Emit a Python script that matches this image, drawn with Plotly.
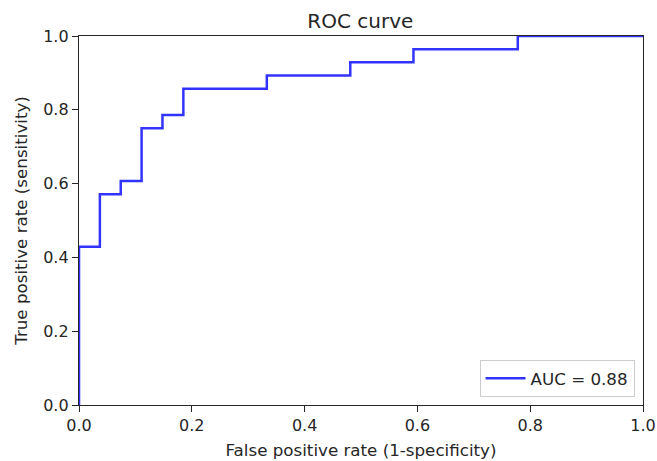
import plotly.graph_objects as go

# ROC curve step points
fpr = [0.0, 0.0, 0.037, 0.037, 0.074, 0.074, 0.111, 0.111, 0.148, 0.148,
       0.185, 0.185, 0.333, 0.333, 0.481, 0.481, 0.593, 0.593, 0.778, 0.778, 1.0]
tpr = [0.0, 0.429, 0.429, 0.571, 0.571, 0.607, 0.607, 0.75, 0.75, 0.786,
       0.786, 0.857, 0.857, 0.893, 0.893, 0.929, 0.929, 0.964, 0.964, 1.0, 1.0]
auc_label = "AUC = 0.88"
tick_vals = [0.0, 0.2, 0.4, 0.6, 0.8, 1.0]
tick_text = ["0.0", "0.2", "0.4", "0.6", "0.8", "1.0"]

fig = go.Figure()
fig.add_trace(go.Scatter(
    x=fpr, y=tpr, mode="lines", name=auc_label,
    line=dict(color="rgba(0,0,255,0.8)", width=2.5),
))

axis_common = dict(
    range=[0, 1], showgrid=False, zeroline=False, automargin=False,
    showline=True, linecolor="#262626", linewidth=1.3, mirror=True,
    ticks="outside", ticklen=6, tickwidth=1.3, tickcolor="#262626",
    tickvals=tick_vals, ticktext=tick_text, ticklabeloverflow="allow",
    tickfont=dict(size=16, color="#262626"),
)

fig.update_layout(
    width=657, height=461,
    margin=dict(l=79, r=14, t=36, b=56),
    paper_bgcolor="white", plot_bgcolor="white",
    font=dict(family="DejaVu Sans", size=16, color="#262626"),
    title=dict(text="ROC curve", x=0.5485, xanchor="center", y=0.9555, yanchor="middle",
               font=dict(size=20, color="#262626")),
    xaxis=dict(axis_common, title=dict(text="False positive rate (1-specificity)",
                                       font=dict(size=16.7), standoff=9)),
    yaxis=dict(axis_common, title=dict(text="True positive rate (sensitivity)",
                                       font=dict(size=16.7), standoff=11)),
    showlegend=True,
    legend=dict(x=0.985, y=0.022, xanchor="right", yanchor="bottom",
                bordercolor="#cccccc", borderwidth=1, bgcolor="rgba(255,255,255,0.8)",
                font=dict(size=16.7, color="#262626"), itemwidth=40),
)

fig.write_html("out.html")
